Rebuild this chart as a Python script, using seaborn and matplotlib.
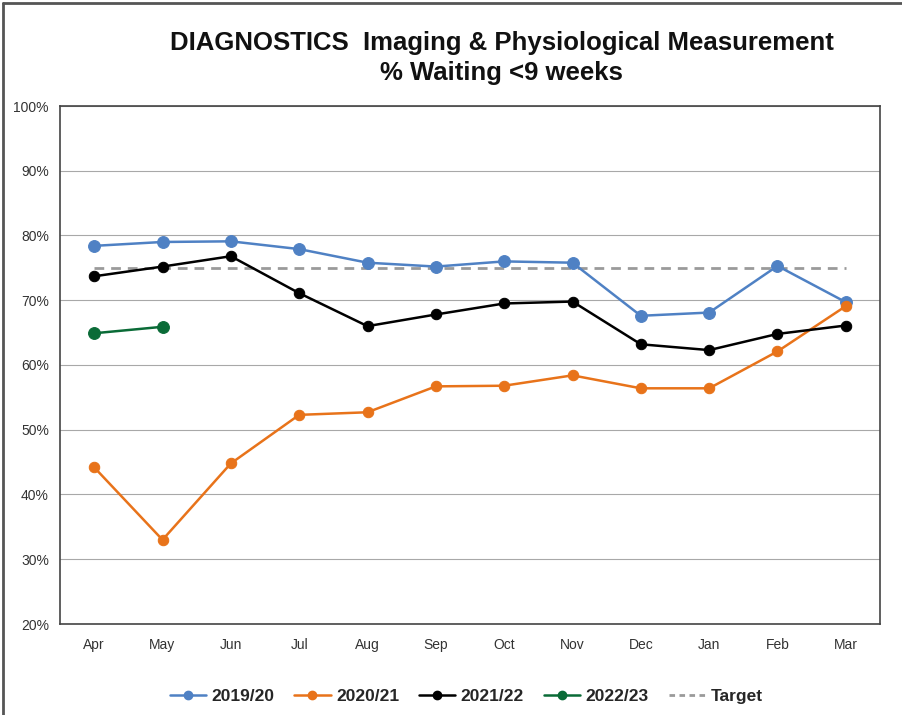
import numpy as np
import pandas as pd
import seaborn as sns
import matplotlib.pyplot as plt
from matplotlib.lines import Line2D

# ── data ──
MONTHS = ["Apr", "May", "Jun", "Jul", "Aug", "Sep", "Oct", "Nov", "Dec", "Jan", "Feb", "Mar"]
Y2019 = [78.4, 79.0, 79.1, 77.9, 75.8, 75.2, 76.0, 75.8, 67.6, 68.1, 75.3, 69.7]
Y2020 = [44.2, 33.0, 44.8, 52.3, 52.7, 56.7, 56.8, 58.4, 56.4, 56.4, 62.1, 69.1]
Y2021 = [73.7, 75.2, 76.8, 71.1, 66.0, 67.8, 69.5, 69.8, 63.2, 62.3, 64.8, 66.1]
Y2022 = [64.9, 65.9]
TARGET = [75.0] * 12
SERIES = ["2019/20", "2020/21", "2021/22", "2022/23"]
COLORS = ["#4F81C4", "#E8731A", "#000000", "#0A6B37"]

sns.set_style("white")
plt.rcParams["font.family"] = ["Liberation Sans", "DejaVu Sans"]

rows = []
for name, vals in zip(SERIES, [Y2019, Y2020, Y2021, Y2022]):
    for i, v in enumerate(vals):
        rows.append({"series": name, "pos": i, "value": v / 100})
df = pd.DataFrame(rows)

fig = plt.figure(figsize=(9.02, 7.15), dpi=100)
ax = fig.add_axes([60 / 902, 1 - 624 / 715, 820 / 902, 518 / 715])

pos = np.arange(len(MONTHS))
ax.plot(pos, np.array(TARGET) / 100, color="#9A9A9A", lw=2, ls=(0, (3.5, 2.5)), zorder=2)

sizes = [8.5, 7.5, 7.5, 8.5]
for name, col, ms in zip(SERIES, COLORS, sizes):
    sns.lineplot(data=df[df["series"] == name], x="pos", y="value", ax=ax, color=col,
                 marker="o", markersize=ms, markeredgecolor=col, lw=1.8, zorder=3)

ax.set_xlim(-0.5, 11.5)
ax.set_ylim(0.2, 1.0)
ax.set_yticks(np.arange(0.2, 1.01, 0.1))
ax.set_yticklabels([f"{int(round(v * 100))}%" for v in np.arange(0.2, 1.01, 0.1)])
ax.set_xticks(pos)
ax.set_xticklabels(MONTHS)
ax.set_xticks(np.arange(-0.5, 12, 1), minor=True)
ax.tick_params(axis="x", which="major", length=0, pad=10, labelsize=10, colors="#333333")
ax.tick_params(axis="x", which="minor", length=5, direction="out", color="#444444")
ax.tick_params(axis="y", length=6, direction="out", color="#444444", labelsize=10,
               labelcolor="#333333", pad=2)
ax.yaxis.grid(True, color="#A8A8A8", lw=0.8)
for s in ax.spines.values():
    s.set_color("#444444")
    s.set_linewidth(1.2)
ax.set_xlabel("")
ax.set_ylabel("")

fig.text(0.556, 1 - 43 / 715, "DIAGNOSTICS  Imaging & Physiological Measurement",
         ha="center", va="center", fontsize=18.5, fontweight="bold", color="#111111")
fig.text(0.556, 1 - 73 / 715, "% Waiting <9 weeks",
         ha="center", va="center", fontsize=18.5, fontweight="bold", color="#111111")

handles = [Line2D([], [], color=c, marker="o", markersize=6, lw=1.8) for c in COLORS]
handles.append(Line2D([], [], color="#9A9A9A", lw=2, ls=(0, (2, 1.6))))
leg = fig.legend(handles, SERIES + ["Target"], loc="center", bbox_to_anchor=(466 / 902, 1 - 696 / 715),
                 ncol=5, frameon=False, handlelength=2.1, handletextpad=0.3, columnspacing=1.15,
                 prop={"weight": "bold", "size": 12.5})

# screenshot frame on the left and top
fig.add_artist(Line2D([3 / 902, 3 / 902], [0, 1 - 3 / 715], transform=fig.transFigure, color="#555555", lw=2))
fig.add_artist(Line2D([3 / 902, 1], [1 - 3 / 715, 1 - 3 / 715], transform=fig.transFigure, color="#555555", lw=2))

fig.savefig("out.png", dpi=100)
